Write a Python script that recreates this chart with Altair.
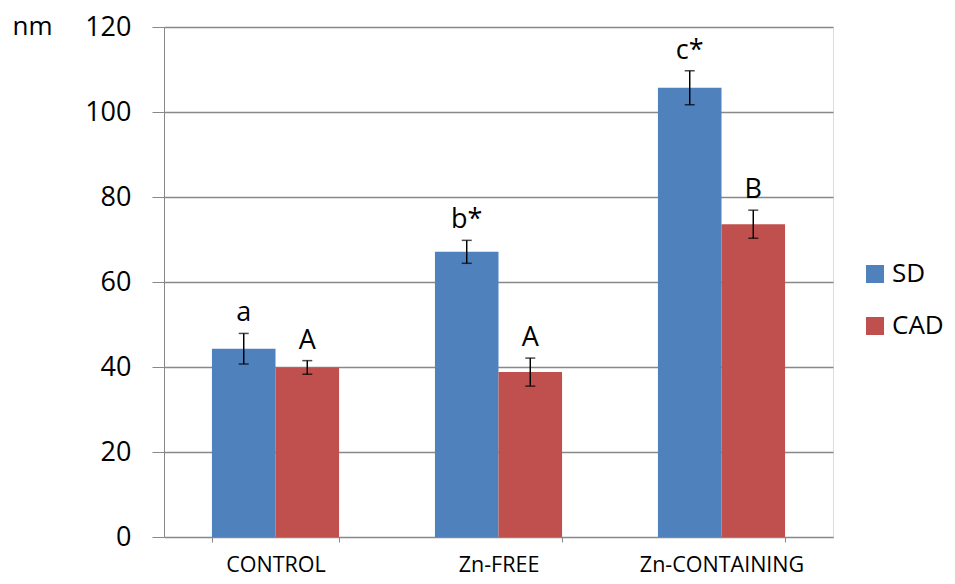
import altair as alt
import pandas as pd

categories = ["CONTROL", "Zn-FREE", "Zn-CONTAINING"]
groups = ["SD", "CAD"]
sd_values = [44.3, 67.1, 105.7]
sd_errors = [3.6, 2.7, 4.0]
cad_values = [39.9, 38.8, 73.6]
cad_errors = [1.6, 3.3, 3.3]
sd_letters = ["a", "b*", "c*"]
cad_letters = ["A", "A", "B"]
y_ticks = [0, 20, 40, 60, 80, 100, 120]
colors = ["#4F81BD", "#C0504D"]

rows = []
for i, c in enumerate(categories):
    rows.append(dict(cat=c, grp="SD", val=sd_values[i], err=sd_errors[i], lab=sd_letters[i]))
    rows.append(dict(cat=c, grp="CAD", val=cad_values[i], err=cad_errors[i], lab=cad_letters[i]))
df = pd.DataFrame(rows)
df["lo"] = df["val"] - df["err"]
df["hi"] = df["val"] + df["err"]

FONT = "Open Sans"

x = alt.X("cat:N", sort=categories,
          scale=alt.Scale(paddingInner=0.43, paddingOuter=0.215),
          axis=alt.Axis(title=None, labelAngle=0, labelFontSize=21.5, labelFont=FONT,
                        labelColor="#000000", tickBand="extent", tickSize=5,
                        tickColor="#888888", domainColor="#888888", labelPadding=12,
                        grid=False))
xo = alt.XOffset("grp:N", sort=groups, scale=alt.Scale(paddingInner=0, paddingOuter=0))
y_scale = alt.Scale(domain=[0, 120], nice=False)

base = alt.Chart(df)

bars = base.mark_bar().encode(
    x=x, xOffset=xo,
    y=alt.Y("val:Q", scale=y_scale,
            axis=alt.Axis(values=y_ticks, title="nm", titleAngle=0, titleX=-152, titleY=-14,
                          titleAlign="left", titleBaseline="top", titleFontSize=26,
                          titleFont=FONT, titleFontWeight="normal", titleColor="#000000",
                          labelFontSize=27, labelFont=FONT, labelColor="#000000",
                          labelPadding=21, tickSize=12, tickColor="#888888",
                          domainColor="#888888", gridColor="#888888", gridWidth=1.3)),
    color=alt.Color("grp:N", sort=groups,
                    scale=alt.Scale(domain=groups, range=colors),
                    legend=alt.Legend(title=None, orient="none", legendX=698, legendY=234,
                                      symbolType="square", symbolSize=324, symbolStrokeWidth=0,
                                      labelFontSize=26, labelFont=FONT, labelColor="#000000",
                                      rowPadding=26, padding=0, labelOffset=4)),
)

rules = base.mark_rule(color="black", strokeWidth=1.5).encode(
    x=x, xOffset=xo, y=alt.Y("lo:Q", scale=y_scale), y2="hi:Q")
caps_hi = base.mark_tick(color="black", size=10, thickness=1.5, orient="horizontal").encode(
    x=x, xOffset=xo, y=alt.Y("hi:Q", scale=y_scale))
caps_lo = base.mark_tick(color="black", size=10, thickness=1.5, orient="horizontal").encode(
    x=x, xOffset=xo, y=alt.Y("lo:Q", scale=y_scale))
labels = base.mark_text(fontSize=27, font=FONT, color="black", baseline="alphabetic",
                        dy=-12).encode(
    x=x, xOffset=xo, y=alt.Y("hi:Q", scale=y_scale), text="lab:N")

chart = alt.layer(bars, rules, caps_hi, caps_lo, labels).properties(
    width=669, height=510,
    autosize=alt.AutoSizeParams(type="none"),
    padding={"left": 156, "top": 19, "right": 114, "bottom": 39},
).configure_view(stroke=None).configure(background="white")

chart.save("out.html", embed_options={"renderer": "svg", "actions": False})
